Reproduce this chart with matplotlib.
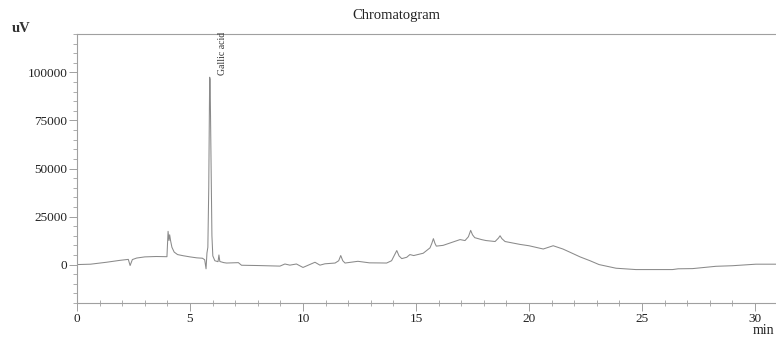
import matplotlib
matplotlib.use("Agg")
import matplotlib.pyplot as plt
from matplotlib.ticker import MultipleLocator

plt.rcParams['font.family'] = ['Liberation Serif', 'DejaVu Serif']

# retention time (min) and detector signal (uV)
time_min = [0.0, 0.6, 1.3, 1.9, 2.27, 2.35, 2.45, 2.64, 3.0, 3.5, 3.98,
            4.03, 4.07, 4.10, 4.14, 4.2, 4.3, 4.45, 4.7, 5.0, 5.3, 5.55, 5.65,
            5.71, 5.75, 5.79, 5.83, 5.87, 5.89, 5.93, 5.97, 6.01, 6.1, 6.24,
            6.28, 6.32, 6.5, 6.62, 7.14, 7.28, 8.0, 8.98, 9.2, 9.42, 9.71,
            10.0, 10.53, 10.75, 10.97, 11.42, 11.58, 11.67, 11.76, 11.86,
            12.43, 12.94, 13.41, 13.7, 13.92, 14.05, 14.15, 14.25, 14.37,
            14.59, 14.73, 14.9, 15.32, 15.62, 15.7, 15.77, 15.84, 15.9, 16.2,
            16.65, 16.95, 17.17, 17.32, 17.42, 17.5, 17.6, 17.9, 18.1, 18.5,
            18.65, 18.72, 18.8, 18.94, 19.6, 20.0, 20.63, 21.07, 21.5, 21.8,
            22.26, 22.7, 23.1, 23.85, 24.73, 26.35, 26.6, 27.24, 28.27,
            29.0, 30.04, 31.0]
signal_uv = [0, 200, 1200, 2200, 2700, -500, 2600, 3400, 4000, 4200, 4100,
             17300, 12500, 15500, 12500, 9000, 6500, 5200, 4600, 4000, 3500,
             3300, 2500, -2200, 6000, 9000, 40000, 97500, 96500, 55000, 15000,
             4500, 2000, 1500, 5000, 1600, 1000, 800, 1000, -350, -500, -800,
             300, -300, 300, -1500, 1200, -300, 400, 800, 2000, 4700, 2000,
             800, 1700, 900, 850, 800, 2000, 5000, 7300, 4500, 3100, 3800,
             5200, 4700, 5900, 8700, 11000, 13500, 11000, 9600, 10000, 11800,
             13000, 12500, 14500, 17800, 15500, 14000, 13000, 12500, 12000,
             13800, 15000, 13500, 12000, 10500, 9800, 8100, 9800, 8100, 6500,
             4000, 2000, 0, -1900, -2600, -2600, -2200, -2100, -900, -600,
             200, 200]

peak_name = "Gallic acid"
peak_time = 5.87
peak_height = 97500

x_ticks = [0, 5, 10, 15, 20, 25, 30]
y_ticks = [0, 25000, 50000, 75000, 100000]

fig = plt.figure(figsize=(7.76, 3.4), dpi=100)
ax = fig.add_axes([77 / 776, 37 / 340, 1 - 77 / 776, 269 / 340])

ax.plot(time_min, signal_uv, color='#8a8a8a', lw=0.75)
# peak label, rotated like the instrument software prints it
ax.text(peak_time + 0.55, peak_height + 1000, peak_name, rotation=90,
        ha='center', va='bottom', fontsize=7, color='#333333')

ax.set_xlim(0, 30.93)
ax.set_ylim(-20000, 120000)
ax.set_xticks(x_ticks)
ax.set_yticks(y_ticks)
ax.xaxis.set_minor_locator(MultipleLocator(1))
ax.yaxis.set_minor_locator(MultipleLocator(5000))

for side in ['left', 'top', 'bottom']:
    ax.spines[side].set_color('#a0a0a0')
    ax.spines[side].set_linewidth(0.8)
ax.spines['right'].set_visible(False)

ax.tick_params(which='major', direction='out', length=6, width=0.7,
               color='#a0a0a0', labelsize=9.5, labelcolor='#222222', pad=1)
ax.tick_params(which='minor', direction='out', length=3, width=0.6,
               color='#a0a0a0')
ax.tick_params(axis='x', which='minor', direction='inout', length=4)

fig.text(396 / 776, 1 - 16 / 340, "Chromatogram", ha='center', va='center',
         fontsize=10.5, color='#222222')
fig.text(12 / 776, 1 - 28 / 340, "uV", ha='left', va='center',
         fontsize=10.5, fontweight='bold', color='#333333')
fig.text(774 / 776, 1 - 330 / 340, "min", ha='right', va='center',
         fontsize=10, color='#222222')

fig.savefig("out.png", dpi=100)
